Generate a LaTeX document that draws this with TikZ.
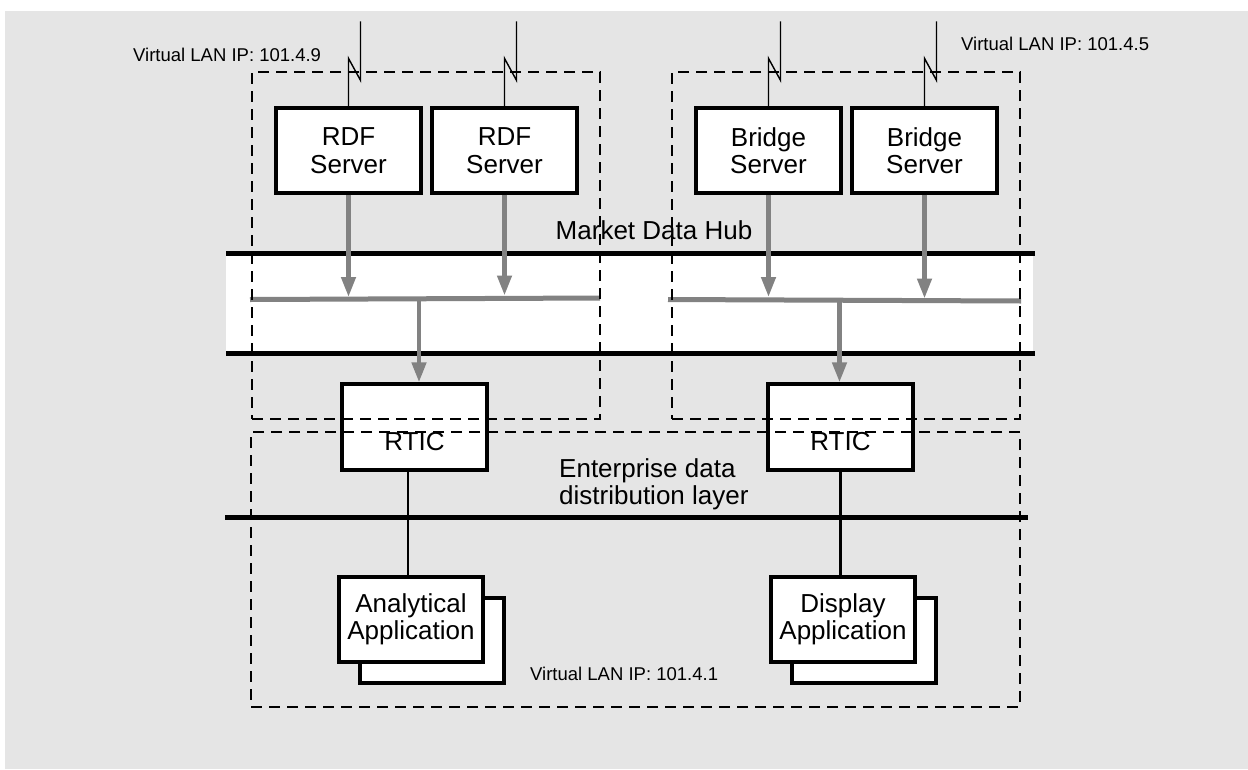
\documentclass[tikz,border=0pt]{standalone}
\usepackage{fontspec}
\setmainfont{Liberation Sans}
\usetikzlibrary{arrows.meta,calc}
\definecolor{bg}{RGB}{229,229,229}
\definecolor{feed}{RGB}{130,130,130}
\newcommand\biglabel{\fontsize{26}{27.5}\selectfont}
\newcommand\smalllabel{\fontsize{18.5}{20}\selectfont}
\begin{document}
\begin{tikzpicture}[x=1pt,y=-1pt,
  srvbox/.style={draw=black, line width=3.3pt, fill=white, inner sep=0pt,
    align=center, font=\biglabel, minimum width=145pt, minimum height=85pt},
  rticbox/.style={draw=black, line width=3.3pt, fill=white, inner sep=0pt,
    font=\biglabel, minimum width=145pt, text height=66pt, text depth=20pt},
  group/.style={draw=black, line width=1.6pt, dash pattern=on 11pt off 7pt,
    inner sep=0pt},
  rail/.style={line width=5pt, black},
  bus/.style={line width=5pt, feed},
  feedarrow/.style={line width=4.5pt, feed, -{Triangle[length=20pt,width=14pt]}},
  bolt/.style={line width=1.4pt, black},
  link/.style={line width=2.8pt, black},
  vlan/.style={font=\smalllabel, inner sep=0pt, anchor=base west},
  caption/.style={font=\biglabel, inner sep=0pt}
]
\useasboundingbox (0,0) rectangle (1248,769);
\fill[bg] (5,11) rectangle (1248,769);

% Market data hub band
\fill[white] (226,255) rectangle (1033,352);
\coordinate (hubTopL) at (226,253.5);
\coordinate (hubTopR) at (1035,253.5);
\coordinate (hubBotL) at (226,353.5);
\coordinate (hubBotR) at (1035,353.5);
\draw[rail] (hubTopL) -- (hubTopR);
\draw[rail] (hubBotL) -- (hubBotR);

% enterprise distribution layer rail
\coordinate (entL) at (225,517.5);
\coordinate (entR) at (1028,517.5);
\draw[rail] (entL) -- (entR);

% servers
\node[srvbox] (rdf1) at (348.5,150.5) {RDF\\Server};
\node[srvbox] (rdf2) at (504.5,150.5) {RDF\\Server};
\node[srvbox] (br1) at (768.5,150.5) {Bridge\\Server};
\node[srvbox] (br2) at (924.5,150.5) {Bridge\\Server};

% RTIC boxes
\node[rticbox] (rtic1) at (414.5,427) {RTIC};
\node[rticbox] (rtic2) at (840.5,427) {RTIC};

% applications (stacked)
\node[srvbox, minimum width=144pt] (app1back) at (432,640.5) {};
\node[srvbox, minimum width=144pt] (app1) at (411,619.5) {Analytical\\Application};
\node[srvbox, minimum width=144pt] (app2back) at (864,640.5) {};
\node[srvbox, minimum width=144pt] (app2) at (843,619.5) {Display\\Application};

% hub buses
\coordinate (busLa) at (250,299.5);
\coordinate (busLb) at (600,298);
\coordinate (busRa) at (668,299.5);
\coordinate (busRb) at (1021,301);
\coordinate (busLout) at (419,299);
\coordinate (busRout) at (839.5,300);
\draw[bus] (busLa) -- (busLb);
\draw[bus] (busRa) -- (busRb);

% feeds from servers into the buses
\draw[feedarrow] (rdf1.south) -- ([yshift=2.5pt]rdf1.south |- busLa);
\draw[feedarrow] (rdf2.south) -- ([yshift=2.5pt]rdf2.south |- busLb);
\draw[feedarrow] (br1.south) -- ([yshift=2.5pt]br1.south |- busRa);
\draw[feedarrow] (br2.south) -- ([yshift=2.5pt]br2.south |- busRb);
% feeds from the buses down to the RTICs
\draw[feedarrow] (busLout) -- (busLout |- rtic1.north);
\draw[feedarrow] (busRout) -- (busRout |- rtic2.north);

% RTIC to applications
\draw[link] ([xshift=-3pt]app1.north |- rtic1.south) -- ([xshift=-3pt]app1.north);
\draw[link] (rtic2.south) -- (rtic2.south |- app2.north);

% incoming lines with break symbols
\coordinate (r1top) at ($(rdf1.north)+(12,-85)$);
\coordinate (r2top) at ($(rdf2.north)+(12,-85)$);
\coordinate (b1top) at ($(br1.north)+(12,-85)$);
\coordinate (b2top) at ($(br2.north)+(12,-85)$);
\draw[bolt] (rdf1.north) -- ++(0,-48) -- ++(12,22) -- (r1top);
\draw[bolt] (rdf2.north) -- ++(0,-48) -- ++(12,22) -- (r2top);
\draw[bolt] (br1.north) -- ++(0,-48) -- ++(12,22) -- (b1top);
\draw[bolt] (br2.north) -- ++(0,-48) -- ++(12,22) -- (b2top);

% virtual LAN groups
\node[group, minimum width=348pt, minimum height=347pt] (rdfgrp) at (426,245.5) {};
\node[group, minimum width=348pt, minimum height=347pt] (brgrp) at (846,245.5) {};
\node[group, minimum width=769pt, minimum height=275pt] (entgrp) at (635.5,569.5) {};

% labels
\node[vlan] (vlan9) at (133,61) {Virtual LAN IP: 101.4.9};
\node[vlan] (vlan5) at (961,50) {Virtual LAN IP: 101.4.5};
\node[vlan] (vlan1) at (530,680) {Virtual LAN IP: 101.4.1};
\node[caption, anchor=base] (hublbl) at (654,239) {Market Data Hub};
\node[caption, align=left, anchor=north west] (entlbl) at (559,458)
  {Enterprise data\\distribution layer};
\end{tikzpicture}
\end{document}
